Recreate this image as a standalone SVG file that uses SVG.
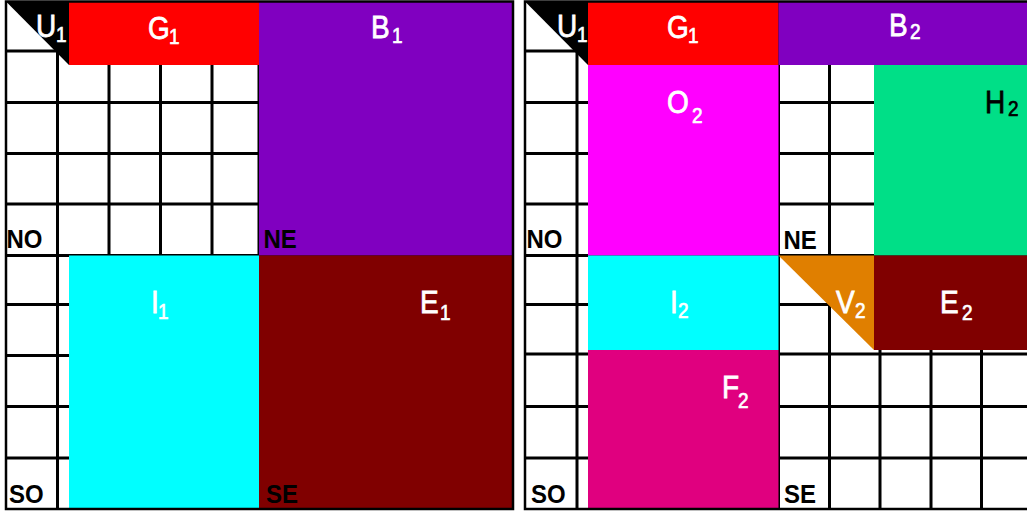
<svg xmlns="http://www.w3.org/2000/svg" width="1027" height="512" viewBox="0 0 1027 512">
<style>
.grid line{stroke:#000;stroke-width:3}
.border{fill:none;stroke:#000;stroke-width:2.5}
.m{font-family:"Liberation Sans",Arial,sans-serif;font-size:28px;fill:#fff;stroke:#fff;stroke-width:0.7}
.s{font-family:"Liberation Sans",Arial,sans-serif;font-size:19px;fill:#fff;stroke:#fff;stroke-width:0.6}
.dk{fill:#000;stroke:#000}
.c{font-family:"Liberation Sans",Arial,sans-serif;font-size:24px;font-weight:bold;fill:#000}
</style>
<rect width="1027" height="512" fill="#fff"/>

<!-- LEFT PANEL -->
<g id="left-grid" class="grid">
<line x1="57.5" y1="1.5" x2="57.5" y2="509"/>
<line x1="109" y1="1.5" x2="109" y2="509"/>
<line x1="160.5" y1="1.5" x2="160.5" y2="509"/>
<line x1="212" y1="1.5" x2="212" y2="509"/>
<line x1="259" y1="1.5" x2="259" y2="509"/>
<line x1="6" y1="51" x2="513" y2="51"/>
<line x1="6" y1="102.5" x2="513" y2="102.5"/>
<line x1="6" y1="153.5" x2="513" y2="153.5"/>
<line x1="6" y1="204" x2="513" y2="204"/>
<line x1="6" y1="255.5" x2="513" y2="255.5"/>
<line x1="6" y1="304.5" x2="513" y2="304.5"/>
<line x1="6" y1="355.5" x2="513" y2="355.5"/>
<line x1="6" y1="406.5" x2="513" y2="406.5"/>
<line x1="6" y1="458" x2="513" y2="458"/>
</g>

<g id="U1-left"><polygon points="6,1.5 69,1.5 69,65" fill="#000"/>
<g transform="translate(36,37) scale(1,1.15)"><text class="m">U</text><text class="s" x="20" y="4">1</text></g></g>
<g id="G1-left"><rect x="69" y="1.5" width="190" height="63.5" fill="#ff0000"/>
<g transform="translate(148,39) scale(1,1.15)"><text class="m">G</text><text class="s" x="21" y="4">1</text></g></g>
<g id="B1"><rect x="259" y="1.5" width="254" height="254" fill="#8000c0"/>
<g transform="translate(371,38) scale(1,1.15)"><text class="m">B</text><text class="s" x="21" y="4">1</text></g></g>
<g id="I1"><rect x="69" y="255.5" width="190" height="253.5" fill="#00ffff"/>
<g transform="translate(151,313) scale(1,1.15)"><text class="m">I</text><text class="s" x="7" y="5">1</text></g></g>
<g id="E1"><rect x="259" y="255.5" width="254" height="253.5" fill="#800000"/>
<g transform="translate(420,313) scale(1,1.15)"><text class="m">E</text><text class="s" x="20" y="6">1</text></g></g>

<g id="left-quadrant-labels">
<g transform="translate(6.5,248) scale(1,1.1)"><text class="c">NO</text></g>
<g transform="translate(263.5,248) scale(1,1.1)"><text class="c">NE</text></g>
<g transform="translate(9,503) scale(1,1.1)"><text class="c">SO</text></g>
<g transform="translate(266,503) scale(1,1.1)"><text class="c">SE</text></g>
</g>
<rect class="border" x="6" y="1.5" width="507" height="507.5"/>

<!-- RIGHT PANEL -->
<g id="right-grid" class="grid">
<line x1="577" y1="1.5" x2="577" y2="509"/>
<line x1="628" y1="1.5" x2="628" y2="509"/>
<line x1="679.5" y1="1.5" x2="679.5" y2="509"/>
<line x1="731" y1="1.5" x2="731" y2="509"/>
<line x1="778.5" y1="1.5" x2="778.5" y2="509"/>
<line x1="829.5" y1="1.5" x2="829.5" y2="509"/>
<line x1="880" y1="1.5" x2="880" y2="509"/>
<line x1="931" y1="1.5" x2="931" y2="509"/>
<line x1="981.5" y1="1.5" x2="981.5" y2="509"/>
<line x1="525" y1="51" x2="1032" y2="51"/>
<line x1="525" y1="102.5" x2="1032" y2="102.5"/>
<line x1="525" y1="153.5" x2="1032" y2="153.5"/>
<line x1="525" y1="204" x2="1032" y2="204"/>
<line x1="525" y1="255.5" x2="1032" y2="255.5"/>
<line x1="525" y1="304.5" x2="1032" y2="304.5"/>
<line x1="525" y1="354" x2="1032" y2="354"/>
<line x1="525" y1="406.5" x2="1032" y2="406.5"/>
<line x1="525" y1="458" x2="1032" y2="458"/>
</g>

<g id="U1-right"><polygon points="525,1.5 588,1.5 588,65" fill="#000"/>
<g transform="translate(557,37) scale(1,1.15)"><text class="m">U</text><text class="s" x="20" y="4">1</text></g></g>
<g id="G1-right"><rect x="588" y="1.5" width="190.5" height="63.5" fill="#ff0000"/>
<g transform="translate(667,38) scale(1,1.15)"><text class="m">G</text><text class="s" x="21" y="4">1</text></g></g>
<g id="B2"><rect x="778.5" y="1.5" width="253.5" height="63.5" fill="#8000c0"/>
<g transform="translate(889,36) scale(1,1.15)"><text class="m">B</text><text class="s" x="21" y="3">2</text></g></g>
<g id="O2"><rect x="588" y="65" width="190.5" height="190.5" fill="#ff00ff"/>
<g transform="translate(667,113) scale(1,1.15)"><text class="m">O</text><text class="s" x="25" y="9">2</text></g></g>
<g id="H2"><rect x="874" y="65" width="158" height="190.5" fill="#00df87"/>
<g transform="translate(985,113) scale(1,1.15)"><text class="m dk">H</text><text class="s dk" x="23" y="3">2</text></g></g>
<g id="V2"><polygon points="778.5,255.5 874,255.5 874,350" fill="#e07f00"/>
<g transform="translate(836,313) scale(1,1.15)"><text class="m">V</text><text class="s" x="19" y="4">2</text></g></g>
<g id="E2"><rect x="874" y="255.5" width="158" height="94.5" fill="#800000"/>
<g transform="translate(940,313) scale(1,1.15)"><text class="m">E</text><text class="s" x="22" y="6">2</text></g></g>
<g id="I2"><rect x="588" y="255.5" width="190.5" height="94.5" fill="#00ffff"/>
<g transform="translate(670,313) scale(1,1.15)"><text class="m">I</text><text class="s" x="8" y="4">2</text></g></g>
<g id="F2"><rect x="588" y="350" width="190.5" height="159" fill="#e0007f"/>
<g transform="translate(722,398) scale(1,1.15)"><text class="m">F</text><text class="s" x="16" y="9">2</text></g></g>

<g id="right-quadrant-labels">
<g transform="translate(526.5,248) scale(1,1.1)"><text class="c">NO</text></g>
<g transform="translate(783.5,249) scale(1,1.1)"><text class="c">NE</text></g>
<g transform="translate(531,503) scale(1,1.1)"><text class="c">SO</text></g>
<g transform="translate(784,503) scale(1,1.1)"><text class="c">SE</text></g>
</g>
<rect class="border" x="525" y="1.5" width="507" height="507.5"/>
</svg>
